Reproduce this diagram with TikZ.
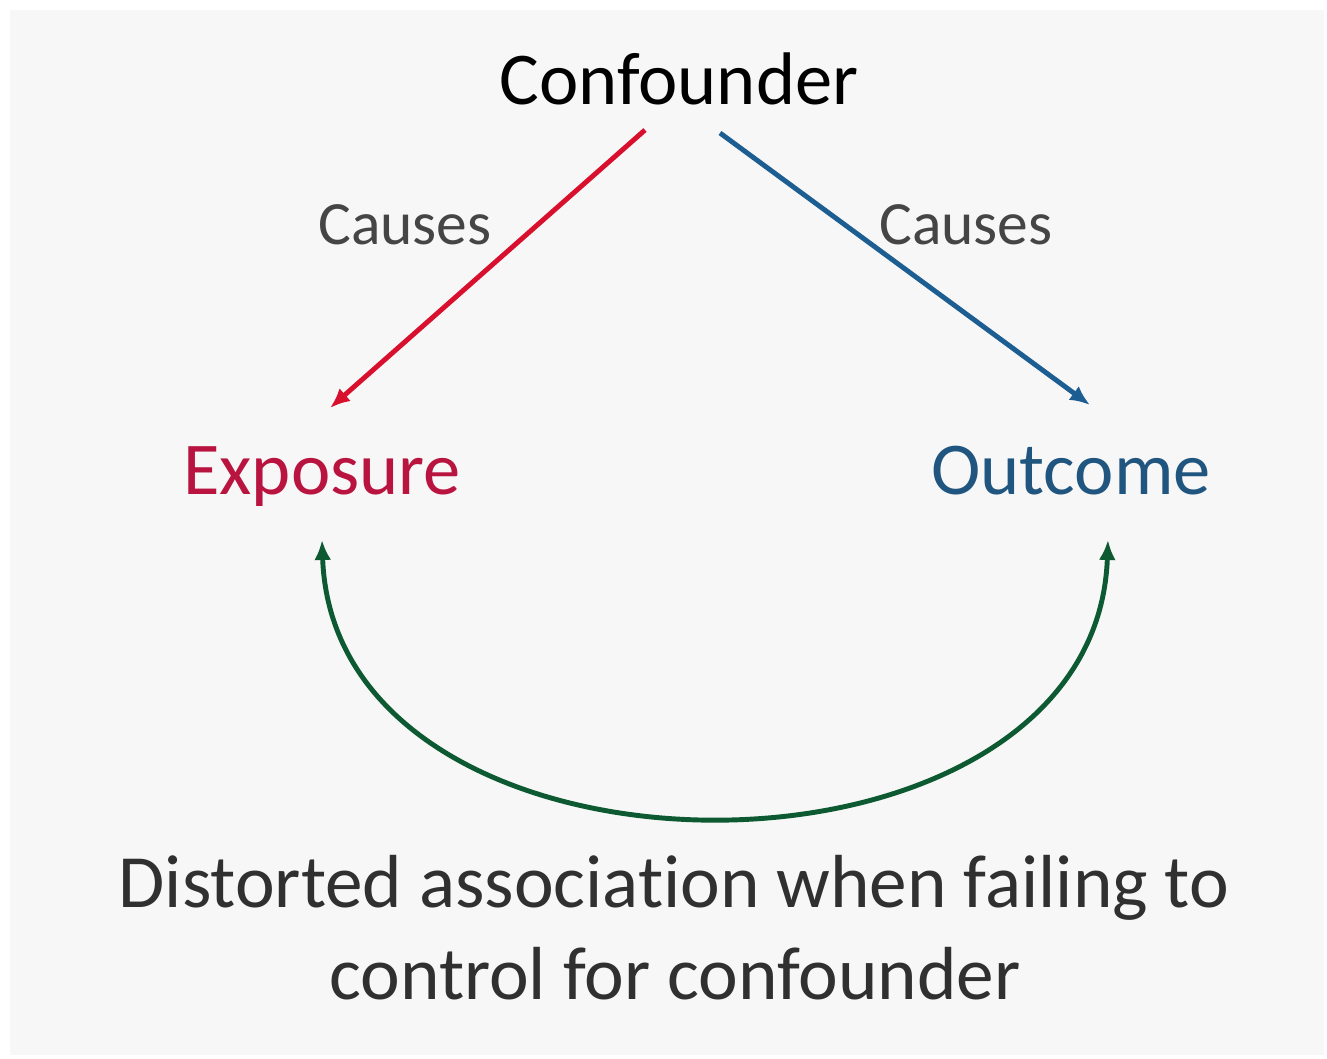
\documentclass[tikz,border=0pt]{standalone}
\usepackage{fontspec}
\setmainfont{Carlito}[Ligatures=NoCommon]
\usepackage{tikz}
\usetikzlibrary{arrows.meta,positioning,calc}
\definecolor{bgGray}{HTML}{F7F7F7}
\definecolor{expoRed}{HTML}{B8143F}
\definecolor{arrRed}{HTML}{D8102E}
\definecolor{outcBlue}{HTML}{1F557F}
\definecolor{arrBlue}{HTML}{1D5E92}
\definecolor{assocGreen}{HTML}{0D5A32}
\definecolor{labGray}{HTML}{454545}
\definecolor{txtGray}{HTML}{303030}

\begin{document}
\begin{tikzpicture}[
  var/.style={font=\fontsize{21.2}{25}\selectfont, anchor=base},
  causelab/.style={font=\fontsize{17.5}{21}\selectfont, text=labGray, anchor=base},
  desc/.style={font=\fontsize{21.4}{25}\selectfont, text=txtGray, anchor=base},
  causal/.style={-{Latex[length=2mm,width=1.7mm]}, line width=1.4pt},
  assoc/.style={{Latex[length=2mm,width=1.7mm]}-{Latex[length=2mm,width=1.7mm]}, line width=1.4pt, draw=assocGreen}
]
% Canvas and grey panel
\useasboundingbox (0,0) rectangle (13.27,10.59);
\fill[white] (0,0) rectangle (13.27,10.59);
\fill[bgGray] (0.10,0.04) rectangle (13.24,10.49);

% Variables
\node[var] (conf) at (6.79,9.54)  {Confounder};
\node[var, text=expoRed] (expo) at (3.22,5.64) {Exposure};
\node[var, text=outcBlue] (outc) at (10.71,5.64) {Outcome};

% Edge labels
\node[causelab] (causeL) at (4.05,8.14) {Causes};
\node[causelab] (causeR) at (9.66,8.14) {Causes};

% Causal arrows
\draw[causal, arrRed]  ([shift={(-0.34,-0.25)}]conf.base) -- ([shift={(0.08,0.87)}]expo.base);
\draw[causal, arrBlue] ([shift={(0.41,-0.28)}]conf.base) -- ([shift={(0.19,0.90)}]outc.base);

% Distorted association
\draw[assoc] ([shift={(0,-0.45)}]expo.base) to[out=-88,in=-92,looseness=1.2] ([shift={(0.37,-0.45)}]outc.base);

% Caption
\node[desc] (desc1) at (6.74,1.51) {Distorted association when failing to};
\node[desc] (desc2) at (6.75,0.59) {control for confounder};
\end{tikzpicture}
\end{document}
